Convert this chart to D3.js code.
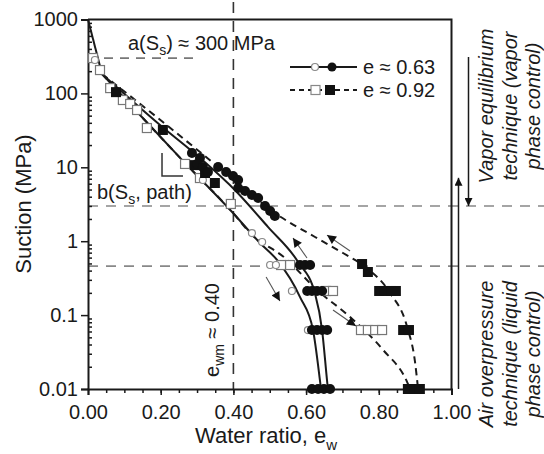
<!DOCTYPE html>
<html><head><meta charset="utf-8">
<script src="https://cdn.jsdelivr.net/npm/d3@7"></script>
<style>
html,body{margin:0;padding:0;background:#fff;}
svg{display:block;font-family:"Liberation Sans",Arial,Helvetica,sans-serif;}
</style></head><body>
<svg id="chart" width="544" height="454"></svg>
<script>
// ---------- data (water ratio e_w, suction MPa) ----------
const initialSegment = [[0,1000],[0.0385,183]];
const dryingE063  = [[0.0385,183],[0.198,37.4],[0.308,13.4],[0.404,4.93],[0.495,1.56],[0.578,0.523],[0.624,0.199],[0.644,0.0628],[0.6575,0.0132],[0.660,0.01]];
const wettingE063 = [[0.0385,183],[0.143,51.0],[0.267,11.4],[0.399,2.41],[0.473,0.945],[0.520,0.557],[0.583,0.176],[0.619,0.0628],[0.638,0.0132],[0.641,0.01]];
const dryingE092  = [[0.0385,183],[0.206,41.0],[0.308,16.1],[0.418,5.76],[0.514,2.41],[0.6245,1.14],[0.7015,0.692],[0.759,0.462],[0.831,0.199],[0.878,0.069],[0.900,0.0225],[0.908,0.01]];
const wettingE092 = [[0.0385,183],[0.143,51.0],[0.267,11.4],[0.399,2.41],[0.446,1.29],[0.542,0.592],[0.630,0.219],[0.721,0.0942],[0.812,0.0337],[0.878,0.0124],[0.886,0.01]];

// measured points
const filledCircles = [[0.286,15.6],[0.308,13.4],[0.300,11.1],[0.316,10.1],[0.330,8.64],[0.358,10.1],[0.380,8.64],[0.399,7.62],[0.413,6.73],[0.413,5.25],[0.432,4.78],[0.451,4.22],[0.468,3.84],[0.487,3.0],[0.501,2.56],[0.514,2.19],
  [0.583,0.476],[0.597,0.476],[0.611,0.476],
  [0.603,0.212],[0.616,0.212],[0.630,0.212],[0.644,0.212],
  [0.616,0.0628],[0.630,0.0628],[0.644,0.0628],[0.658,0.0628],
  [0.616,0.01],[0.633,0.01],[0.649,0.01],[0.666,0.01]];
const openCircles = [[0.019,283],[0.316,6.73],[0.451,1.29],[0.479,0.975],[0.501,0.476],[0.517,0.476],[0.561,0.212],[0.605,0.0628]];
const filledSquares = [[0.077,104],[0.206,32.0],[0.294,10.7],[0.322,8.37],[0.349,6.13],
  [0.754,0.491],[0.770,0.383],
  [0.801,0.212],[0.817,0.212],[0.834,0.212],[0.847,0.212],
  [0.867,0.0628],[0.883,0.0628],
  [0.880,0.01],[0.897,0.01],[0.913,0.01]];
const openSquares = [[0.0138,301],[0.033,207],[0.061,118],[0.096,81.4],[0.116,71.9],[0.135,59.6],[0.162,34.0],[0.267,11.1],[0.308,7.16],[0.393,3.19],
  [0.531,0.476],[0.556,0.476],
  [0.655,0.212],[0.674,0.212],
  [0.751,0.0628],[0.770,0.0628],[0.790,0.0628],[0.809,0.0628]];

// path-direction arrows: [tail, head]
const pathArrows = [
  [[0.490,0.328],[0.528,0.155]],
  [[0.6025,0.592],[0.564,1.105]],
  [[0.721,0.737],[0.6575,1.21]],
  [[0.674,0.117],[0.737,0.0712]]
];

const yTicks = [0.01,0.1,1,10,100,1000];
const yTickLabels = ["0.01","0.1","1","10","100","1000"];
const xTicks = [0,0.2,0.4,0.6,0.8,1.0];
const xTickLabels = ["0.00","0.20","0.40","0.60","0.80","1.00"];

const suctionA = 300, suctionAEnd = 0.30;   // a(Ss)
const suctionB = 3;                           // vapour / liquid boundary
const suctionC = 0.46;
const ewm = 0.40;
const slopeMark = [[0.2036,15.6],[0.2036,7.62],[0.2613,7.62]];
const vaporRange = [311,3];
const liquidRange = [0.01,7.2];

// ---------- drawing ----------
const W=544,H=454;
const x = d3.scaleLinear().domain([0,1]).range([88,451.5]);
const y = d3.scaleLog().domain([0.01,1000]).range([389,19.5]);
const svg = d3.select("#chart");
const ink = "#1a1a1a";

const defs = svg.append("defs");
defs.append("marker").attr("id","ah").attr("viewBox","0 0 10 10").attr("refX",10).attr("refY",5)
  .attr("markerWidth",11).attr("markerHeight",9).attr("markerUnits","userSpaceOnUse").attr("orient","auto")
  .append("path").attr("d","M0,0 L10,5 L0,10 Z").attr("fill","#111");
defs.append("marker").attr("id","ah2").attr("viewBox","0 0 10 10").attr("refX",10).attr("refY",5)
  .attr("markerWidth",13).attr("markerHeight",8).attr("markerUnits","userSpaceOnUse").attr("orient","auto")
  .append("path").attr("d","M0,0 L10,5 L0,10 Z").attr("fill","#111");

// reference dashed lines
svg.append("line").attr("x1",x(0)).attr("x2",x(suctionAEnd)).attr("y1",y(suctionA)).attr("y2",y(suctionA))
  .attr("stroke","#777").attr("stroke-width",1.6).attr("stroke-dasharray","9,7");
[suctionB,suctionC].forEach(s=>{
  svg.append("line").attr("x1",x(0)).attr("x2",W).attr("y1",y(s)).attr("y2",y(s))
    .attr("stroke","#888").attr("stroke-width",1.6).attr("stroke-dasharray","10,8");
});
svg.append("line").attr("x1",x(ewm)).attr("x2",x(ewm)).attr("y1",2).attr("y2",y(0.01))
  .attr("stroke","#333").attr("stroke-width",1.6).attr("stroke-dasharray","11,8");

// axes
const yAxis = d3.axisLeft(y).tickValues(yTicks).tickFormat((d,i)=>yTickLabels[i]).tickSize(7).tickPadding(3);
const gy = svg.append("g").attr("transform",`translate(${x(0)},0)`).call(yAxis);
const yMinor = [];
for (let p=-2;p<3;p++) for (let k=2;k<10;k++) yMinor.push(k*Math.pow(10,p));
svg.append("g").attr("transform",`translate(${x(0)},0)`).call(d3.axisLeft(y).tickValues(yMinor).tickSize(-4).tickFormat(""))
  .call(g=>g.select(".domain").remove());
const xAxis = d3.axisBottom(x).tickValues(xTicks).tickFormat((d,i)=>xTickLabels[i]).tickSize(6);
const gx = svg.append("g").attr("transform",`translate(0,${y(0.01)})`).call(xAxis);
const xMinor = d3.range(0.05,1,0.05);
svg.append("g").attr("transform",`translate(0,${y(0.01)})`).call(d3.axisBottom(x).tickValues(xMinor).tickSize(4).tickFormat(""))
  .call(g=>g.select(".domain").remove());
svg.selectAll(".tick line").attr("stroke",ink).attr("stroke-width",1.5);
svg.selectAll(".domain").attr("stroke",ink).attr("stroke-width",2);
gy.selectAll("text").style("font-size","20px").attr("fill",ink);
gx.selectAll("text").style("font-size","20px").attr("fill",ink).attr("dy",null).attr("y",30);

// box top & right
svg.append("path").attr("d",`M${x(0)},${y(1000)}H${x(1)}V${y(0.01)}`).attr("fill","none").attr("stroke",ink).attr("stroke-width",2);

// curves
const line = d3.line().x(d=>x(d[0])).y(d=>y(d[1])).curve(d3.curveMonotoneX);
const straight = d3.line().x(d=>x(d[0])).y(d=>y(d[1]));
svg.append("path").attr("d",straight(initialSegment)).attr("fill","none").attr("stroke",ink).attr("stroke-width",2);
[[dryingE063,false],[wettingE063,false],[dryingE092,true],[wettingE092,true]].forEach(([d,dash])=>{
  svg.append("path").attr("d",line(d)).attr("fill","none").attr("stroke",ink).attr("stroke-width",2)
    .attr("stroke-dasharray",dash?"7,5":null);
});

// markers
svg.append("g").selectAll("rect").data(openSquares).join("rect")
  .attr("x",d=>x(d[0])-4.5).attr("y",d=>y(d[1])-4.5).attr("width",9).attr("height",9)
  .attr("fill","#fff").attr("stroke","#777").attr("stroke-width",1.2);
svg.append("g").selectAll("circle").data(openCircles).join("circle")
  .attr("cx",d=>x(d[0])).attr("cy",d=>y(d[1])).attr("r",3.5)
  .attr("fill","#fff").attr("stroke","#888").attr("stroke-width",1.2);
svg.append("g").selectAll("rect").data(filledSquares).join("rect")
  .attr("x",d=>x(d[0])-5).attr("y",d=>y(d[1])-5).attr("width",10).attr("height",10).attr("fill","#111");
svg.append("g").selectAll("circle").data(filledCircles).join("circle")
  .attr("cx",d=>x(d[0])).attr("cy",d=>y(d[1])).attr("r",5).attr("fill","#111");

// path arrows
pathArrows.forEach(([t,h])=>{
  svg.append("line").attr("x1",x(t[0])).attr("y1",y(t[1])).attr("x2",x(h[0])).attr("y2",y(h[1]))
    .attr("stroke","#555").attr("stroke-width",1.1).attr("marker-end","url(#ah)");
});

// slope marker
svg.append("path").attr("d",straight(slopeMark)).attr("fill","none").attr("stroke","#333").attr("stroke-width",1.5);

// technique arrows
svg.append("line").attr("x1",x(1)+7).attr("x2",x(1)+7).attr("y1",y(liquidRange[0])).attr("y2",y(liquidRange[1]))
  .attr("stroke",ink).attr("stroke-width",1.5).attr("marker-end","url(#ah2)");
svg.append("line").attr("x1",x(1)+17).attr("x2",x(1)+17).attr("y1",y(vaporRange[0])).attr("y2",y(vaporRange[1]))
  .attr("stroke",ink).attr("stroke-width",1.5).attr("marker-end","url(#ah2)");

// titles
svg.append("text").attr("transform","translate(31,204) rotate(-90)").attr("text-anchor","middle")
  .style("font-size","22px").attr("fill",ink).text("Suction (MPa)");
const xt = svg.append("text").attr("x",195).attr("y",443).style("font-size","22px").attr("fill",ink);
xt.append("tspan").text("Water ratio, e");
xt.append("tspan").attr("dy",7).style("font-size","15px").text("w");

// annotations
const ta = svg.append("text").attr("x",128).attr("y",50).style("font-size","20px").attr("fill",ink);
ta.append("tspan").text("a(S");
ta.append("tspan").attr("dy",5).style("font-size","14px").text("s");
ta.append("tspan").attr("dy",-5).text(") ≈ 300 MPa");
const tb = svg.append("text").attr("x",97).attr("y",199).style("font-size","20px").attr("fill",ink);
tb.append("tspan").text("b(S");
tb.append("tspan").attr("dy",5).style("font-size","14px").text("s");
tb.append("tspan").attr("dy",-5).text(", path)");
const te = svg.append("text").attr("transform","translate(219,330) rotate(-90)").attr("text-anchor","middle")
  .style("font-size","20px").attr("fill",ink);
te.append("tspan").text("e");
te.append("tspan").attr("dy",5).style("font-size","14px").text("wm");
te.append("tspan").attr("dy",-5).text(" ≈ 0.40");

// legend
const lg = svg.append("g");
lg.append("line").attr("x1",290).attr("x2",357).attr("y1",67).attr("y2",67).attr("stroke",ink).attr("stroke-width",2);
lg.append("circle").attr("cx",315).attr("cy",67).attr("r",3.5).attr("fill","#fff").attr("stroke","#888").attr("stroke-width",1.2);
lg.append("circle").attr("cx",332).attr("cy",67).attr("r",4.5).attr("fill","#111");
lg.append("text").attr("x",363).attr("y",74).style("font-size","20px").attr("fill",ink).text("e ≈ 0.63");
lg.append("line").attr("x1",290).attr("x2",357).attr("y1",90).attr("y2",90).attr("stroke",ink).attr("stroke-width",2).attr("stroke-dasharray","5,4");
lg.append("rect").attr("x",311).attr("y",85.5).attr("width",9).attr("height",9).attr("fill","#fff").attr("stroke","#888").attr("stroke-width",1.2);
lg.append("rect").attr("x",325).attr("y",85).attr("width",10).attr("height",10).attr("fill","#111");
lg.append("text").attr("x",363).attr("y",97).style("font-size","20px").attr("fill",ink).text("e ≈ 0.92");

// technique texts
const techUpper = ["Vapor equilibrium","technique (vapor","phase control)"];
const techLower = ["Air overpressure","technique (liquid","phase control)"];
const colX = [493,516.5,540];
techUpper.forEach((t,i)=>svg.append("text").attr("transform",`translate(${colX[i]},106) rotate(-90)`)
  .attr("text-anchor","middle").style("font-size","20px").style("font-style","italic").attr("fill",ink).text(t));
techLower.forEach((t,i)=>svg.append("text").attr("transform",`translate(${colX[i]},354) rotate(-90)`)
  .attr("text-anchor","middle").style("font-size","20px").style("font-style","italic").attr("fill",ink).text(t));
</script>
</body></html>
